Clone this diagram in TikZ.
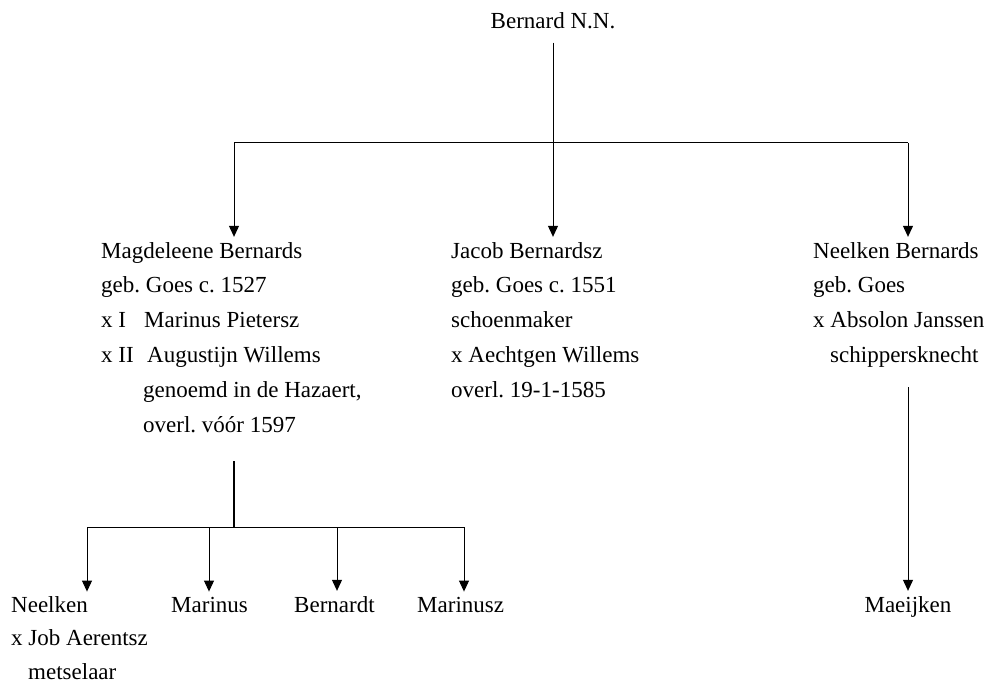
\documentclass[tikz,border=0pt]{standalone}
\usepackage{fontspec}
\setmainfont{Liberation Serif}
\frenchspacing
\usetikzlibrary{arrows.meta}

\begin{document}
\begin{tikzpicture}[x=1pt,y=-1pt,>={Triangle[width=10pt,length=11pt]},
 person/.style={anchor=base west,align=left,inner sep=0pt,
  font=\fontsize{23}{34.8}\selectfont},
 link/.style={line width=1pt},
 descent/.style={link,->,shorten >=5pt}]
 \useasboundingbox (0,0) rectangle (985,682);
 \node[person,anchor=base] (bernard) at (553,29) {Bernard N.N.};
 \node[person] (magd) at (101,432) {Magdeleene Bernards\\
  geb. Goes c. 1527\\
  \makebox[43pt][l]{x I}Marinus Pietersz\\
  \makebox[46pt][l]{x II}Augustijn Willems\\
  \hspace*{42pt}genoemd in de Hazaert,\\
  \hspace*{42pt}overl. vóór 1597};
 \node[person] (jacob) at (451,397.2) {Jacob Bernardsz\\
  geb. Goes c. 1551\\
  schoenmaker\\
  x Aechtgen Willems\\
  overl. 19-1-1585};
 \node[person] (neelb) at (813,362.4) {Neelken Bernards\\
  geb. Goes\\
  x Absolon Janssen\\
  \hspace*{17pt}schippersknecht};
 \node[person,font=\fontsize{23}{33.5}\selectfont] (neel) at (11,679) {Neelken\\
  x Job Aerentsz\\
  \hspace*{17pt}metselaar};
 \node[person] (mar) at (171,612) {Marinus};
 \node[person] (bern) at (294,612) {Bernardt};
 \node[person] (marz) at (417,612) {Marinusz};
 \node[person,anchor=base] (maei) at (908,612) {Maeijken};
 \coordinate (top) at (553,143);
 \coordinate (lft) at (234,143);
 \coordinate (rgt) at (908,143);
 \coordinate (mstub) at (234,461);
 \coordinate (mjoin) at (234,527);
 \coordinate (mc1) at (87,527);
 \coordinate (mc2) at (209,527);
 \coordinate (mc3) at (337,527);
 \coordinate (mc4) at (464,527);
 \coordinate (nstub) at (908,387);
 \draw[link,shorten <=13pt] (bernard.south) -- (top);
 \draw[link] (lft) -- (rgt);
 \draw[descent] (lft) -- (lft |- magd.north);
 \draw[descent] (top) -- (top |- jacob.north);
 \draw[descent] (rgt) -- (rgt |- neelb.north);
 \draw[line width=2pt] (mstub) -- (mjoin);
 \draw[link] (mc1) -- (mc4);
 \draw[descent] (mc1) -- (mc1 |- mar.north);
 \draw[descent] (mc2) -- (mc2 |- mar.north);
 \draw[descent] (mc3) -- (mc3 |- bern.north);
 \draw[descent] (mc4) -- (mc4 |- marz.north);
 \draw[descent] (nstub) -- (maei.north);
\end{tikzpicture}
\end{document}
